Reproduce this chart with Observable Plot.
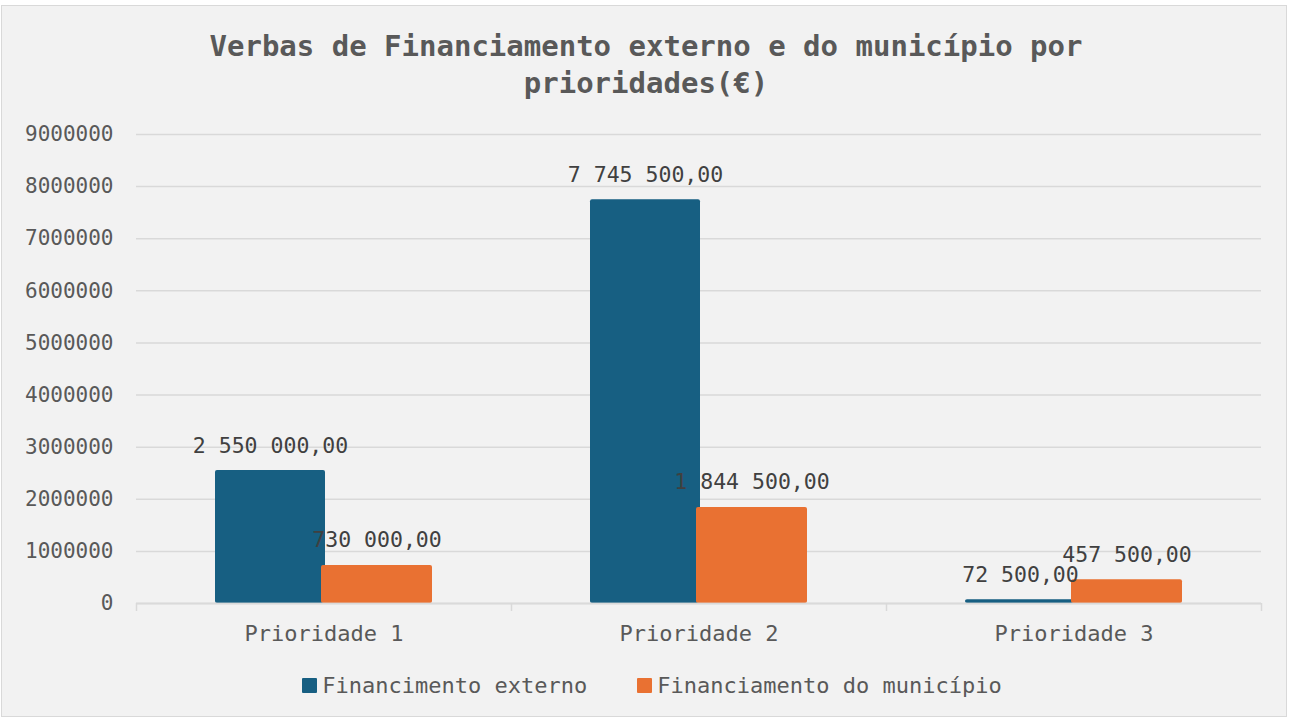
<!DOCTYPE html>
<html>
<head>
<meta charset="utf-8">
<script src="https://cdn.jsdelivr.net/npm/d3@7"></script>
<script src="https://cdn.jsdelivr.net/npm/@observablehq/plot@0.6"></script>
<style>
  html, body { margin: 0; padding: 0; background: #ffffff; }
  #wrap { position: relative; width: 1290px; height: 719px; overflow: hidden; font-family: "DejaVu Sans Mono", monospace; }
  #frame { position: absolute; left: 1px; top: 5px; width: 1284px; height: 710px; background: #f2f2f2; border: 1.5px solid #d9d9d9; }
  #title { position: absolute; left: 0; top: 28px; width: 1292px; text-align: center; font-size: 29px; line-height: 37px; font-weight: bold; color: #595959; }
  #chart { position: absolute; left: 0; top: 110px; }
  #legend { position: absolute; left: 0; top: 673px; width: 1290px; display: flex; justify-content: center; align-items: center; font-size: 22px; color: #595959; padding-left: 14px; box-sizing: border-box; }
  .item { display: flex; align-items: center; }
  .sw { width: 15px; height: 15px; margin-right: 5px; border-radius: 1px; }
</style>
</head>
<body>
<div id="wrap">
  <div id="frame"></div>
  <div id="title">Verbas de Financiamento externo e do município por<br>prioridades(€)</div>
  <div id="chart"></div>
  <div id="legend"></div>
</div>
<script>
const categories = ["Prioridade 1", "Prioridade 2", "Prioridade 3"];
const seriesNames = ["Financimento externo", "Financiamento do município"];
const externo = [2550000, 7745500, 72500];
const municipio = [730000, 1844500, 457500];
const yTicks = [0, 1000000, 2000000, 3000000, 4000000, 5000000, 6000000, 7000000, 8000000, 9000000];
const colors = ["#175f82", "#e97132"];

const fmt = d3.formatLocale({decimal: ",", thousands: " ", grouping: [3], currency: ["", "€"]}).format(",.2f");

const rowsExt = categories.map((c, i) => ({cat: c, value: externo[i]}));
const rowsMun = categories.map((c, i) => ({cat: c, value: municipio[i]}));

const chart = Plot.plot({
  width: 1290,
  height: 540,
  marginTop: 24,
  marginBottom: 47,
  marginLeft: 136,
  marginRight: 29,
  style: {background: "transparent", fontFamily: "DejaVu Sans Mono", fontSize: "21px", color: "#595959", overflow: "visible"},
  x: {domain: categories, padding: 0},
  y: {domain: [0, 9000000]},
  marks: [
    Plot.gridY(yTicks, {stroke: "#d9d9d9", strokeOpacity: 1, strokeWidth: 1.5}),
    Plot.axisY(yTicks, {tickSize: 0, tickPadding: 23, tickFormat: d => String(d), fontSize: 21, fill: "#595959", label: null}),
    Plot.barY(rowsExt, {x: "cat", y: "value", fill: colors[0], insetLeft: 79, insetRight: 186, rx: 2}),
    Plot.barY(rowsMun, {x: "cat", y: "value", fill: colors[1], insetLeft: 185, insetRight: 79, rx: 2}),
    Plot.ruleY([0], {stroke: "#d9d9d9", strokeWidth: 2, strokeOpacity: 0.8}),
    Plot.text(rowsExt, {x: "cat", y: "value", text: d => fmt(d.value), dx: -53.5, dy: -25, fill: "#404040", fontSize: 21.5}),
    Plot.text(rowsMun, {x: "cat", y: "value", text: d => fmt(d.value), dx: 53, dy: -25, fill: "#404040", fontSize: 21.5}),
    Plot.axisX({tickSize: 0, tickPadding: 22, fontSize: 22, fill: "#595959", label: null}),
    Plot.axisX({tickSize: 8, tickFormat: () => "", dx: -187.5, stroke: "#d9d9d9", strokeWidth: 1.5, label: null}),
    Plot.axisX([categories[categories.length - 1]], {tickSize: 8, tickFormat: () => "", dx: 187.5, stroke: "#d9d9d9", strokeWidth: 1.5, label: null})
  ]
});
document.getElementById("chart").appendChild(chart);

const legend = document.getElementById("legend");
seriesNames.forEach((name, i) => {
  const item = document.createElement("div");
  item.className = "item";
  if (i > 0) item.style.marginLeft = "50px";
  const sw = document.createElement("div");
  sw.className = "sw";
  sw.style.background = colors[i];
  const t = document.createElement("span");
  t.textContent = name;
  item.appendChild(sw);
  item.appendChild(t);
  legend.appendChild(item);
});
</script>
</body>
</html>
